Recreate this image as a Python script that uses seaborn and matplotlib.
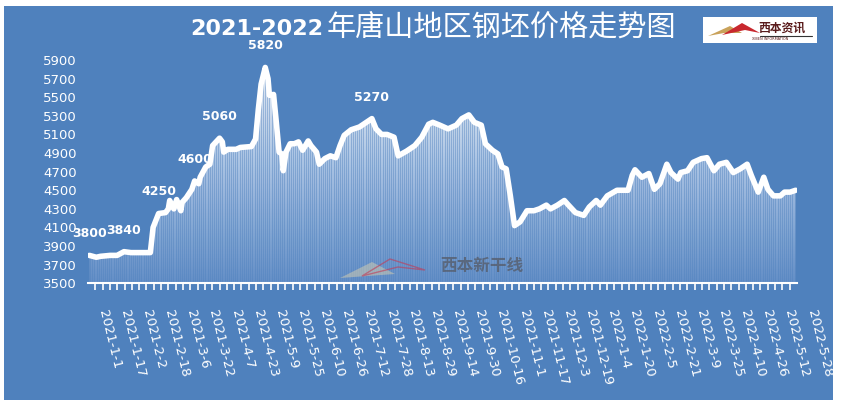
import numpy as np
import pandas as pd
import seaborn as sns
import matplotlib
matplotlib.use('Agg')
import matplotlib.pyplot as plt
import matplotlib.dates as mdates
from matplotlib.colors import LinearSegmentedColormap
from matplotlib.patches import Rectangle, Polygon
from matplotlib.ticker import FixedLocator
from matplotlib.transforms import ScaledTranslation

# billet price, Tangshan (yuan/t)
dates = [
    '2021-01-02', '2021-01-07', '2021-01-10', '2021-01-17', '2021-01-22', '2021-01-27',
    '2021-02-01', '2021-02-15', '2021-02-17', '2021-02-21', '2021-02-26', '2021-02-28',
    '2021-03-01', '2021-03-04', '2021-03-06', '2021-03-09', '2021-03-10', '2021-03-13',
    '2021-03-17', '2021-03-19', '2021-03-22', '2021-03-23', '2021-03-27', '2021-03-30',
    '2021-04-01', '2021-04-06', '2021-04-08', '2021-04-09', '2021-04-12', '2021-04-18',
    '2021-04-21', '2021-04-29', '2021-05-02', '2021-05-04', '2021-05-06', '2021-05-09',
    '2021-05-11', '2021-05-12', '2021-05-15', '2021-05-17', '2021-05-19', '2021-05-21',
    '2021-05-22', '2021-05-24', '2021-05-27', '2021-05-30', '2021-06-02', '2021-06-05',
    '2021-06-09', '2021-06-11', '2021-06-15', '2021-06-17', '2021-06-21', '2021-06-25',
    '2021-06-29', '2021-07-02', '2021-07-05', '2021-07-10', '2021-07-16', '2021-07-21',
    '2021-07-25', '2021-07-28', '2021-08-01', '2021-08-05', '2021-08-10', '2021-08-13',
    '2021-08-19', '2021-08-25', '2021-08-30', '2021-09-04', '2021-09-07', '2021-09-12',
    '2021-09-18', '2021-09-24', '2021-09-28', '2021-10-03', '2021-10-07', '2021-10-12',
    '2021-10-15', '2021-10-20', '2021-10-24', '2021-10-27', '2021-10-30', '2021-11-02',
    '2021-11-05', '2021-11-09', '2021-11-14', '2021-11-19', '2021-11-23', '2021-11-28',
    '2021-12-01', '2021-12-06', '2021-12-11', '2021-12-14', '2021-12-19', '2021-12-25',
    '2021-12-29', '2022-01-03', '2022-01-06', '2022-01-11', '2022-01-18', '2022-01-26',
    '2022-01-29', '2022-01-31', '2022-02-05', '2022-02-10', '2022-02-14', '2022-02-18',
    '2022-02-23', '2022-02-26', '2022-03-03', '2022-03-05', '2022-03-10', '2022-03-14',
    '2022-03-20', '2022-03-24', '2022-03-29', '2022-04-02', '2022-04-07', '2022-04-12',
    '2022-04-17', '2022-04-22', '2022-04-25', '2022-04-30', '2022-05-04', '2022-05-07',
    '2022-05-11', '2022-05-16', '2022-05-19', '2022-05-23', '2022-05-27',
]
prices = [
    3800, 3780, 3790, 3800, 3800, 3840,
    3830, 3830, 4100, 4250, 4260, 4300,
    4390, 4300, 4400, 4280, 4370, 4420,
    4510, 4600, 4570, 4640, 4750, 4780,
    4980, 5060, 5020, 4910, 4940, 4940,
    4960, 4970, 5050, 5370, 5640, 5820,
    5700, 5520, 5530, 5230, 4910, 4890,
    4710, 4910, 5000, 5000, 5020, 4930,
    5030, 4980, 4910, 4780, 4840, 4870,
    4850, 4980, 5090, 5150, 5180, 5230,
    5270, 5160, 5100, 5100, 5070, 4870,
    4920, 4980, 5070, 5210, 5230, 5200,
    5160, 5200, 5270, 5310, 5230, 5200,
    5000, 4930, 4890, 4750, 4730, 4440,
    4120, 4160, 4280, 4280, 4300, 4340,
    4300, 4340, 4390, 4340, 4260, 4230,
    4320, 4390, 4340, 4440, 4500, 4500,
    4660, 4720, 4640, 4680, 4510, 4570,
    4780, 4690, 4620, 4690, 4710, 4800,
    4840, 4850, 4710, 4780, 4800, 4690,
    4730, 4780, 4660, 4480, 4640, 4510,
    4440, 4440, 4480, 4480, 4500,
]

# labelled points
ann_dates = ['2021-01-02', '2021-01-27', '2021-02-21', '2021-03-19', '2021-04-06', '2021-05-09', '2021-07-25']
ann_values = [3800, 3840, 4250, 4600, 5060, 5820, 5270]

tick_dates = pd.date_range('2021-01-01', '2022-05-28', freq='16D')
tick_labels = [
    '2021-1-1', '2021-1-17', '2021-2-2', '2021-2-18', '2021-3-6', '2021-3-22',
    '2021-4-7', '2021-4-23', '2021-5-9', '2021-5-25', '2021-6-10', '2021-6-26',
    '2021-7-12', '2021-7-28', '2021-8-13', '2021-8-29', '2021-9-14', '2021-9-30',
    '2021-10-16', '2021-11-1', '2021-11-17', '2021-12-3', '2021-12-19', '2022-1-4',
    '2022-1-20', '2022-2-5', '2022-2-21', '2022-3-9', '2022-3-25', '2022-4-10',
    '2022-4-26', '2022-5-12', '2022-5-28',
]
y_ticks = list(range(3500, 6000, 200))

title_num = '2021-2022'
title_cn = '年唐山地区钢坯价格走势图'

BG = '#4f81bd'
W, H = 841, 409


def px(x, y):
    """pixel position (from top-left) -> figure fraction"""
    return x / W, 1 - y / H


df = pd.DataFrame({'date': pd.to_datetime(dates), 'price': prices})

sns.set_style('white')
plt.rcParams['font.family'] = ['DejaVu Sans', 'Noto Sans CJK SC']

fig = plt.figure(figsize=(W / 100, H / 100), dpi=100, facecolor='white')
fig.patches.append(Rectangle(px(4, 400), 829 / W, 394 / H, transform=fig.transFigure,
                             facecolor=BG, edgecolor='none', zorder=-10))

l, b = px(88, 283.3)
ax = fig.add_axes([l, b, 709 / W, 223.3 / H])
ax.set_facecolor('none')

x0 = pd.Timestamp('2021-01-01')
x1 = pd.Timestamp('2022-05-28')

# area under the line: white gradient + thin column stripes
poly = ax.fill_between(df['date'], df['price'], 3500, color='none', lw=0)
clip = poly.get_paths()[0]
fade = LinearSegmentedColormap.from_list('fade', ['#6590c8', '#a8c2e3', '#f4f7fc'])
grad = np.linspace(1, 0, 256).reshape(-1, 1)
im = ax.imshow(grad, extent=[mdates.date2num(x0), mdates.date2num(x1), 3500, 5900],
               aspect='auto', cmap=fade, origin='upper', zorder=1)
im.set_clip_path(clip, ax.transData)
stripes = mdates.date2num(pd.date_range(x0, x1, freq='37h'))
vl = ax.vlines(stripes, 3500, 5900, colors=BG, alpha=0.45, lw=0.8, zorder=2)
vl.set_clip_path(clip, ax.transData)

sns.lineplot(data=df, x='date', y='price', color='white', linewidth=4, ax=ax, zorder=3)
ax.lines[-1].set_solid_joinstyle('round')
ax.lines[-1].set_solid_capstyle('round')

for d, v in zip(ann_dates, ann_values):
    ax.annotate(str(v), xy=(pd.Timestamp(d), v), xytext=(0, 15.5), textcoords='offset points',
                ha='center', va='center', color='white', fontsize=9, fontweight='bold', zorder=5)

ax.set_xlim(x0, x1)
ax.set_ylim(3500, 5900)
ax.set_yticks(y_ticks)
ax.set_yticklabels([str(t) for t in y_ticks], color='white', fontsize=9.5)
ax.tick_params(axis='y', length=0, pad=8)

ax.set_xticks(tick_dates)
ax.set_xticklabels(tick_labels, color='white', fontsize=9.5, rotation=-76,
                   rotation_mode='anchor', ha='left', va='center')
ax.xaxis.set_minor_locator(FixedLocator(mdates.date2num(pd.date_range(x0, x1, periods=98))))
ax.tick_params(axis='x', which='major', bottom=True, length=0, pad=19)
ax.tick_params(axis='x', which='minor', bottom=True, length=5, width=1.2, color='white',
               direction='out')
shift = ScaledTranslation(0.14, 0, fig.dpi_scale_trans)
for lab in ax.get_xticklabels():
    lab.set_transform(lab.get_transform() + shift)
ax.set_xlabel('')
ax.set_ylabel('')

for s in ['top', 'right', 'left']:
    ax.spines[s].set_visible(False)
ax.spines['bottom'].set_color('white')
ax.spines['bottom'].set_linewidth(1.5)

# title
fig.text(*px(323, 29), title_num, ha='right', va='center', color='white',
         fontsize=16, fontweight='bold', family=['DejaVu Sans'])
fig.text(*px(327, 28), title_cn, ha='left', va='center', color='white',
         fontsize=21, family=['Noto Sans CJK SC', 'DejaVu Sans'])

# logo box top right
fig.patches.append(Rectangle(px(703, 43), 114 / W, 26 / H, transform=fig.transFigure,
                             facecolor='white', edgecolor='none', zorder=5))
fig.patches.append(Polygon([px(708, 36), px(730, 26), px(742, 33), px(724, 33)],
                           closed=True, transform=fig.transFigure,
                           facecolor='#c9a25a', edgecolor='none', zorder=6))
fig.patches.append(Polygon([px(722, 35), px(742, 23), px(760, 33), px(745, 30)],
                           closed=True, transform=fig.transFigure,
                           facecolor='#c8282e', edgecolor='none', zorder=6))
fig.text(*px(782, 28), '西本资讯', ha='center', va='center', color='#5a1c1c', fontsize=8.5,
         fontweight='bold', family=['Noto Sans CJK SC'], zorder=7)
fig.lines.append(plt.Line2D([760 / W, 812 / W], [1 - 35.5 / H] * 2, transform=fig.transFigure,
                            color='#333333', lw=0.8, zorder=7))
fig.text(*px(770, 39), 'XIBEN INFORMATION', ha='center', va='center', color='#5a1c1c',
         fontsize=2.5, zorder=7)

# watermark
fig.patches.append(Polygon([px(340, 278), px(372, 262), px(395, 274)], closed=True,
                           transform=fig.transFigure, facecolor='#d9d0b0', alpha=0.5,
                           edgecolor='none', zorder=4))
fig.patches.append(Polygon([px(362, 276), px(390, 259), px(425, 270), px(398, 267)],
                           closed=True, transform=fig.transFigure, facecolor='none',
                           edgecolor='#c23a55', lw=1.0, alpha=0.6, zorder=4))
fig.text(*px(482, 266), '西本新干线', ha='center', va='center', color='#555a66', alpha=0.75,
         fontsize=12, fontweight='bold', family=['Noto Sans CJK SC'], zorder=4)

fig.savefig('out.png', dpi=100, facecolor='white')
